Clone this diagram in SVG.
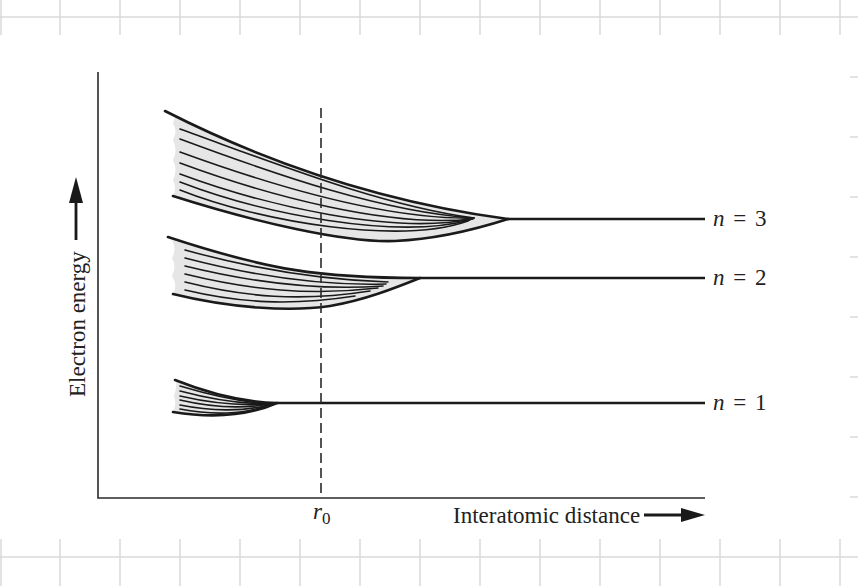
<svg xmlns="http://www.w3.org/2000/svg" width="858" height="586" viewBox="0 0 858 586">
<style>
.grid{stroke:#dadada;stroke-width:1.5;fill:none}
.edge{stroke:#1a1a1a;stroke-width:2.6;fill:none;stroke-linecap:round}
.lvl{stroke:#1a1a1a;stroke-width:1.6;fill:none;stroke-linecap:round}
.fill{fill:#e6e6e6;stroke:none}
.ax{stroke:#2a2a2a;stroke-width:1.6;fill:none}
.hl{stroke:#1a1a1a;stroke-width:2.4;fill:none}
.t{font-family:"Liberation Serif","Times New Roman",serif;font-size:23px;fill:#222}
.it{font-style:italic}
</style>
<rect width="858" height="586" fill="#fff"/>
<g id="page-grid" class="grid">
<path d="M0,17H858M0,557H858"/>
<path d="M1,0V35M60,0V35M120,0V35M180,0V35M240,0V35M300,0V35M360,0V35M420,0V35M480,0V35M540,0V35M600,0V35M660,0V35M720,0V35M780,0V35M840,0V35"/>
<path d="M1,539V586M60,539V586M120,539V586M180,539V586M240,539V586M300,539V586M360,539V586M420,539V586M480,539V586M540,539V586M600,539V586M660,539V586M720,539V586M780,539V586M840,539V586"/>
<path d="M850,77H858M850,137H858M850,197H858M850,257H858M850,317H858M850,377H858M850,437H858M850,497H858"/>
</g>

<g id="band-n3">
<path class="fill" d="M175,116 Q335.3,195.7 508,219 C480,228 440,238 395,241 C345,243 255,222 173,196 Q177,188 173,180 Q178,170 173,160 Q178,150 173,140 Q178,130 173,124 Z"/>
<path class="lvl" d="M180,129 C280,165 380,205 474,218"/>
<path class="lvl" d="M180,139 C277,175 383,212 474,218"/>
<path class="lvl" d="M180,152 C273,186 386,220 474,218"/>
<path class="lvl" d="M180,163 C269,196 389,228 473,219"/>
<path class="lvl" d="M180,174 C266,206 393,235 472,219"/>
<path class="lvl" d="M180,182 C263,214 396,240 470,220"/>
<path class="lvl" d="M180,190 C260,222 400,245 468,221"/>
<path class="edge" d="M165,111 Q330,195 508,219"/>
<path class="edge" d="M173,196 C255,222 345,243 395,241 C440,239 480,228 508,219"/>
<path class="hl" d="M508,219H705"/>
<text class="t" x="713" y="226" word-spacing="3"><tspan class="it">n</tspan> = 3</text>
</g>

<g id="band-n2">
<path class="fill" d="M172,240 C268,270 320,278 420,278 C395,288 365,300 330,306 C290,312 230,308 173,294 Q178,285 172,276 Q177,266 172,258 Q177,248 172,240 Z"/>
<path class="lvl" d="M185,250 C250,268 320,280 388,282"/>
<path class="lvl" d="M185,258 C250,275 320,286 386,284"/>
<path class="lvl" d="M185,266 C250,282 315,291 383,286"/>
<path class="lvl" d="M185,274 C250,290 310,296 378,288"/>
<path class="lvl" d="M185,282 C245,297 300,302 370,291"/>
<path class="lvl" d="M185,290 C240,303 290,306 355,296"/>
<path class="edge" d="M168,237 C268,270 320,278 420,278"/>
<path class="edge" d="M173,294 C230,308 290,312 330,306 C365,300 395,288 420,278"/>
<path class="hl" d="M420,278H705"/>
<text class="t" x="713" y="285" word-spacing="3"><tspan class="it">n</tspan> = 2</text>
</g>

<g id="band-n1">
<path class="fill" d="M176,381 C205,392 240,402 277,403 C245,417 210,418 173,412 Q177,404 174,396 Q177,388 176,381 Z"/>
<path class="lvl" d="M180,386 C210,395 240,402 270,404"/>
<path class="lvl" d="M180,391 C210,399 240,404 270,404"/>
<path class="lvl" d="M180,396 C210,403 240,406 269,404"/>
<path class="lvl" d="M180,400 C210,407 242,409 269,404"/>
<path class="lvl" d="M180,405 C210,411 243,412 268,405"/>
<path class="lvl" d="M180,409 C210,415 245,415 268,405"/>
<path class="edge" d="M175,380 C205,392 240,402 277,403"/>
<path class="edge" d="M173,412 C210,418 245,417 277,403"/>
<path class="hl" d="M277,403H705"/>
<text class="t" x="713" y="410" word-spacing="3"><tspan class="it">n</tspan> = 1</text>
</g>

<g id="connectors">
<path class="ax" d="M98,72V498H705"/>
<path class="ax" d="M321,108V498" stroke-dasharray="10 5"/>
<path d="M644,515H686" stroke="#1a1a1a" stroke-width="2.8"/>
<polygon points="681,508 705,515 681,522" fill="#1a1a1a"/>
<path d="M76,240V200" stroke="#1a1a1a" stroke-width="2.8"/>
<polygon points="69,203 76,177 83,203" fill="#1a1a1a"/>
</g>

<g id="labels">
<text class="t" x="313" y="519"><tspan class="it">r</tspan><tspan font-size="17" dy="5">0</tspan></text>
<text class="t" x="453" y="523">Interatomic distance</text>
<text class="t" transform="translate(85,397) rotate(-90)">Electron energy</text>
</g>
</svg>
